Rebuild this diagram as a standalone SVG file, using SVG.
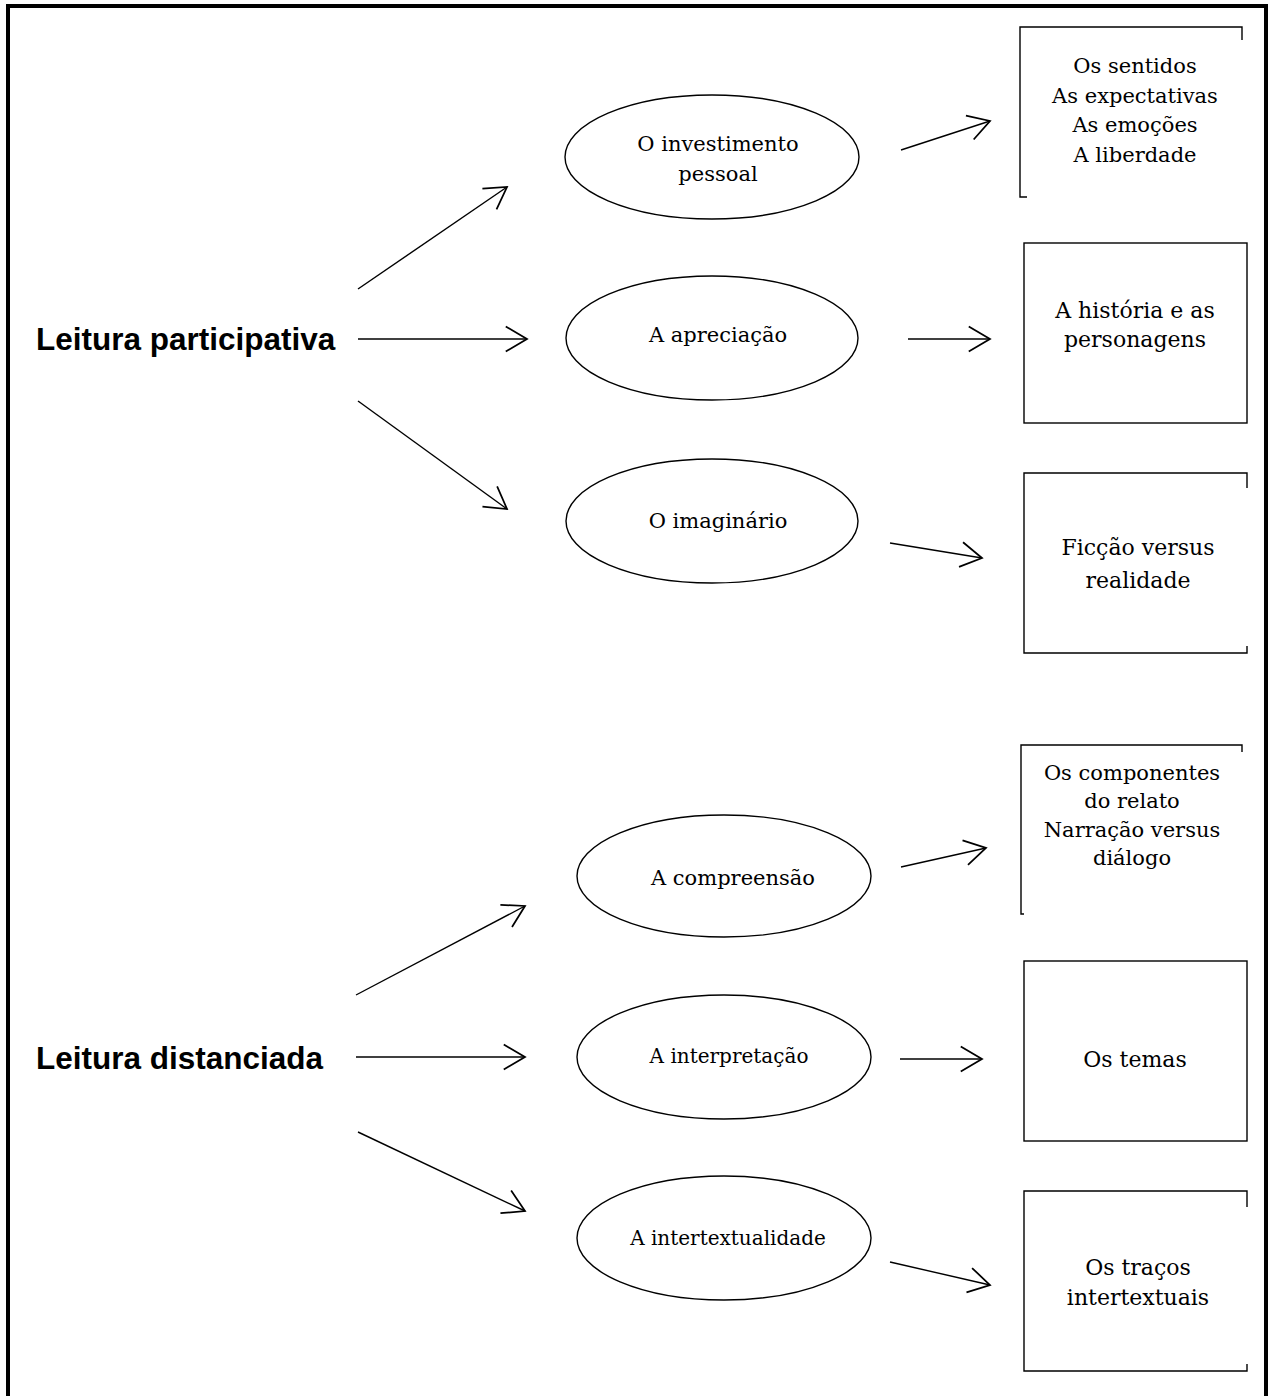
<svg xmlns="http://www.w3.org/2000/svg" width="1270" height="1396" viewBox="0 0 1270 1396">
<style>
.frame{fill:none;stroke:#000;stroke-width:4}
.ell{fill:#fff;stroke:#000;stroke-width:1.4}
.box{fill:none;stroke:#000;stroke-width:1.4}
.con line{stroke:#000;stroke-width:1.4;marker-end:url(#ah)}
.t{font-family:"DejaVu Serif","Liberation Serif",serif;fill:#000;text-anchor:middle}
.lbl{font-family:"Liberation Sans",Arial,sans-serif;font-weight:bold;font-size:31.5px;fill:#000}
</style>
<defs>
<marker id="ah" markerUnits="userSpaceOnUse" markerWidth="30" markerHeight="30" viewBox="-20 -12 24 24" refX="0" refY="0" orient="auto" overflow="visible">
<path d="M-17,-10 L0,0 L-17,10" fill="none" stroke="#000" stroke-width="1.4"/>
</marker>
</defs>
<rect width="1270" height="1396" fill="#fff"/>
<path class="frame" d="M8,1398 V6 H1266 V1398"/>

<g id="leitura-participativa"><text class="lbl" x="36" y="350">Leitura participativa</text></g>
<g id="leitura-distanciada"><text class="lbl" x="36" y="1069">Leitura distanciada</text></g>

<g id="investimento"><ellipse class="ell" cx="712" cy="157" rx="147" ry="62"/>
<text class="t" font-size="21" x="718" y="151">O investimento</text><text class="t" font-size="21" x="718" y="181">pessoal</text></g>
<g id="apreciacao"><ellipse class="ell" cx="712" cy="338" rx="146" ry="62"/>
<text class="t" font-size="21" x="718" y="342">A apreciação</text></g>
<g id="imaginario"><ellipse class="ell" cx="712" cy="521" rx="146" ry="62"/>
<text class="t" font-size="21" x="718" y="528">O imaginário</text></g>
<g id="compreensao"><ellipse class="ell" cx="724" cy="876" rx="147" ry="61"/>
<text class="t" font-size="21" x="733" y="885">A compreensão</text></g>
<g id="interpretacao"><ellipse class="ell" cx="724" cy="1057" rx="147" ry="62"/>
<text class="t" font-size="20" x="729" y="1063">A interpretação</text></g>
<g id="intertextualidade"><ellipse class="ell" cx="724" cy="1238" rx="147" ry="62"/>
<text class="t" font-size="20" x="728" y="1245">A intertextualidade</text></g>

<g id="sentidos"><path class="box" d="M1242,40 V27 H1020 V197 H1027"/>
<text class="t" font-size="21" x="1135" y="73">Os sentidos</text>
<text class="t" font-size="21" x="1135" y="103">As expectativas</text>
<text class="t" font-size="21" x="1135" y="132">As emoções</text>
<text class="t" font-size="21" x="1135" y="162">A liberdade</text></g>
<g id="historia"><rect class="box" x="1024" y="243" width="223" height="180"/>
<text class="t" font-size="22" x="1135" y="318">A história e as</text>
<text class="t" font-size="22" x="1135" y="347">personagens</text></g>
<g id="ficcao"><path class="box" d="M1247,488 V473 H1024 V653 H1247 V646"/>
<text class="t" font-size="22" x="1138" y="555">Ficção versus</text>
<text class="t" font-size="22" x="1138" y="588">realidade</text></g>
<g id="componentes"><path class="box" d="M1242,752 V745 H1021 V914 H1024"/>
<text class="t" font-size="21" x="1132" y="780">Os componentes</text>
<text class="t" font-size="21" x="1132" y="808">do relato</text>
<text class="t" font-size="21" x="1132" y="837">Narração versus</text>
<text class="t" font-size="21" x="1132" y="865">diálogo</text></g>
<g id="temas"><rect class="box" x="1024" y="961" width="223" height="180"/>
<text class="t" font-size="22" x="1135" y="1067">Os temas</text></g>
<g id="tracos"><path class="box" d="M1247,1207 V1191 H1024 V1371 H1247 V1364"/>
<text class="t" font-size="22" x="1138" y="1275">Os traços</text>
<text class="t" font-size="22" x="1138" y="1305">intertextuais</text></g>

<g id="connectors" class="con">
<line x1="358" y1="289" x2="507" y2="187"/>
<line x1="358" y1="339" x2="527" y2="339"/>
<line x1="358" y1="401" x2="507" y2="509"/>
<line x1="901" y1="150" x2="990" y2="121"/>
<line x1="908" y1="339" x2="990" y2="339"/>
<line x1="890" y1="543" x2="982" y2="558"/>
<line x1="356" y1="995" x2="525" y2="906"/>
<line x1="356" y1="1057" x2="525" y2="1057"/>
<line x1="358" y1="1132" x2="525" y2="1211"/>
<line x1="901" y1="867" x2="986" y2="848"/>
<line x1="900" y1="1059" x2="982" y2="1059"/>
<line x1="890" y1="1262" x2="990" y2="1285"/>
</g>
</svg>
